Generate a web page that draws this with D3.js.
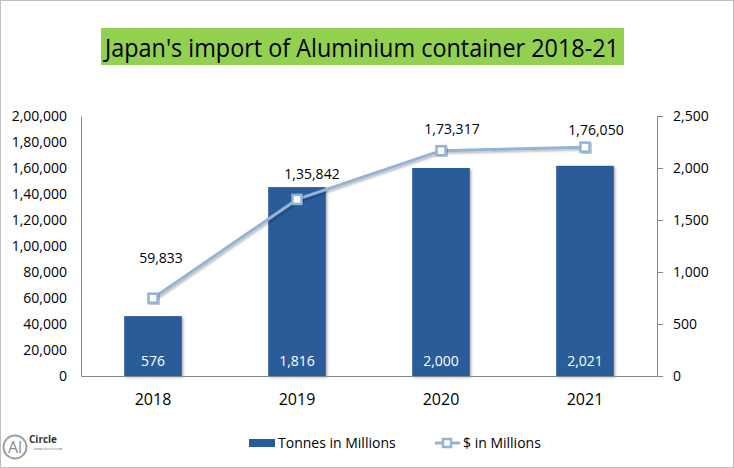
<!DOCTYPE html>
<html lang="en">
<head>
    <meta charset="UTF-8" />
    <title>Japan's import of Aluminium container 2018-21</title>
    <script src="https://d3js.org/d3.v7.min.js"></script>
    <style>
        body { margin: 0; background: #fff; }
        svg { display: block; font-family: "Open Sans", sans-serif; }
    </style>
</head>
<body>
    <div id="chart"></div>

    <script>
        // data
        const years = ["2018", "2019", "2020", "2021"]
        const tonnes = [576, 1816, 2000, 2021]           // bars, right axis
        const dollars = [59833, 135842, 173317, 176050]  // line, left axis
        const leftTicks = [0, 20000, 40000, 60000, 80000, 100000, 120000, 140000, 160000, 180000, 200000]
        const rightTicks = [0, 500, 1000, 1500, 2000, 2500]

        const width = 734
        const height = 468
        const margin = ({ top: 116, right: 77, bottom: 92, left: 81 })

        const barColor = "#295b9a"
        const lineColor = "#95b3d7"
        const axisColor = "#868686"

        // indian digit grouping, e.g. 1,35,842
        const fmt = v => Number(v).toLocaleString("en-IN")

        // label nudges (dx, dy) relative to each line marker
        const labelNudge = [[8, -35], [15, -20], [11, -17], [11, -12]]

        const svg = d3.select("#chart").append("svg")
            .attr("width", width)
            .attr("height", height)

        const defs = svg.append("defs")
        const shadow = defs.append("filter").attr("id", "shadow")
            .attr("x", "-20%").attr("y", "-20%").attr("width", "140%").attr("height", "140%")
        shadow.append("feDropShadow")
            .attr("dx", 1.5).attr("dy", 1.5).attr("stdDeviation", 1.2)
            .attr("flood-color", "#000").attr("flood-opacity", 0.3)

        // outer border
        svg.append("rect")
            .attr("x", 0.5).attr("y", 0.5)
            .attr("width", width - 1).attr("height", height - 1)
            .attr("fill", "#fff").attr("stroke", "#bfbfbf")

        // title on green band
        svg.append("rect")
            .attr("x", 101).attr("y", 28)
            .attr("width", 523).attr("height", 37)
            .attr("fill", "#92d050")
        svg.append("text")
            .attr("x", 362).attr("y", 57)
            .attr("text-anchor", "middle")
            .attr("font-size", 25)
            .attr("textLength", 514)
            .attr("lengthAdjust", "spacingAndGlyphs")
            .attr("fill", "#000")
            .text("Japan's import of Aluminium container 2018-21")

        const x = d3.scaleBand()
            .domain(years)
            .range([margin.left, width - margin.right])
            .paddingInner(0.6)
            .paddingOuter(0.3)

        const xCenter = d => x(d) + x.bandwidth() / 2

        const yLeft = d3.scaleLinear()
            .domain([0, 200000])
            .range([height - margin.bottom, margin.top])

        const yRight = d3.scaleLinear()
            .domain([0, 2500])
            .range([height - margin.bottom, margin.top])

        // left axis (no tick marks)
        svg.append("g")
            .attr("transform", `translate(${margin.left},0)`)
            .call(d3.axisLeft(yLeft).tickValues(leftTicks).tickFormat(fmt).tickSize(0).tickPadding(14))
            .call(g => g.select(".domain").attr("stroke", axisColor))
            .call(g => g.selectAll("text").attr("font-size", 14).attr("fill", "#000").attr("font-family", "Open Sans, sans-serif"))

        // right axis
        svg.append("g")
            .attr("transform", `translate(${width - margin.right},0)`)
            .call(d3.axisRight(yRight).tickValues(rightTicks).tickFormat(fmt).tickSize(6).tickSizeOuter(0).tickPadding(10))
            .call(g => g.select(".domain").attr("stroke", axisColor))
            .call(g => g.selectAll(".tick line").attr("stroke", axisColor))
            .call(g => g.selectAll("text").attr("font-size", 14).attr("fill", "#000").attr("font-family", "Open Sans, sans-serif"))

        // bars
        svg.append("g")
            .selectAll("rect")
            .data(years)
            .join("rect")
            .attr("x", d => x(d))
            .attr("y", (d, i) => yRight(tonnes[i]))
            .attr("width", x.bandwidth())
            .attr("height", (d, i) => yRight(0) - yRight(tonnes[i]))
            .attr("fill", barColor)
            .attr("filter", "url(#shadow)")

        // bottom axis
        svg.append("g")
            .attr("transform", `translate(0,${height - margin.bottom})`)
            .call(d3.axisBottom(x).tickSize(0).tickPadding(18))
            .call(g => g.select(".domain").attr("stroke", axisColor))
            .call(g => g.selectAll("text").attr("font-size", 16).attr("fill", "#000").attr("font-family", "Open Sans, sans-serif"))

        // bar value labels
        svg.append("g")
            .selectAll("text")
            .data(years)
            .join("text")
            .attr("x", d => xCenter(d))
            .attr("y", height - margin.bottom - 10)
            .attr("text-anchor", "middle")
            .attr("font-size", 14)
            .attr("fill", "#fff")
            .text((d, i) => fmt(tonnes[i]))

        // line
        const line = d3.line()
            .x(d => xCenter(d))
            .y((d, i) => yLeft(dollars[i]))

        svg.append("path")
            .datum(years)
            .attr("d", line)
            .attr("fill", "none")
            .attr("stroke", lineColor)
            .attr("stroke-width", 3)
            .attr("filter", "url(#shadow)")

        svg.append("g")
            .selectAll("rect")
            .data(years)
            .join("rect")
            .attr("x", d => xCenter(d) - 4.5)
            .attr("y", (d, i) => yLeft(dollars[i]) - 4.5)
            .attr("width", 9)
            .attr("height", 9)
            .attr("fill", "#fff")
            .attr("stroke", lineColor)
            .attr("stroke-width", 2.5)
            .attr("filter", "url(#shadow)")

        svg.append("g")
            .selectAll("text")
            .data(years)
            .join("text")
            .attr("x", (d, i) => xCenter(d) + labelNudge[i][0])
            .attr("y", (d, i) => yLeft(dollars[i]) + labelNudge[i][1])
            .attr("text-anchor", "middle")
            .attr("font-size", 14)
            .attr("fill", "#000")
            .text((d, i) => fmt(dollars[i]))

        // legend
        const legend = svg.append("g").attr("font-size", 14).attr("fill", "#000")
        legend.append("rect")
            .attr("x", 249).attr("y", 439).attr("width", 26).attr("height", 8)
            .attr("fill", barColor)
        legend.append("text").attr("x", 278).attr("y", 448).text("Tonnes in Millions")
        legend.append("line")
            .attr("x1", 435).attr("x2", 460).attr("y1", 443).attr("y2", 443)
            .attr("stroke", lineColor).attr("stroke-width", 3)
        legend.append("rect")
            .attr("x", 443).attr("y", 439).attr("width", 8).attr("height", 8)
            .attr("fill", "#fff").attr("stroke", lineColor).attr("stroke-width", 2.5)
        legend.append("text").attr("x", 463).attr("y", 448).text("$ in Millions")

        // AlCircle logo
        const logo = svg.append("g")
        logo.append("circle")
            .attr("cx", 15).attr("cy", 447).attr("r", 11.5)
            .attr("fill", "none").attr("stroke", "#a0a0a0").attr("stroke-width", 2)
        logo.append("text")
            .attr("x", 15).attr("y", 453).attr("text-anchor", "middle")
            .attr("font-size", 16).attr("fill", "#8c8c8c")
            .text("Al")
        logo.append("text")
            .attr("x", 29).attr("y", 443)
            .attr("font-size", 11).attr("font-weight", "bold").attr("fill", "#333")
            .attr("textLength", 28).attr("lengthAdjust", "spacingAndGlyphs")
            .text("Circle")
        logo.append("text")
            .attr("x", 34).attr("y", 450)
            .attr("font-size", 3.5).attr("fill", "#666")
            .text("www.alcircle.com")
    </script>
</body>
</html>
